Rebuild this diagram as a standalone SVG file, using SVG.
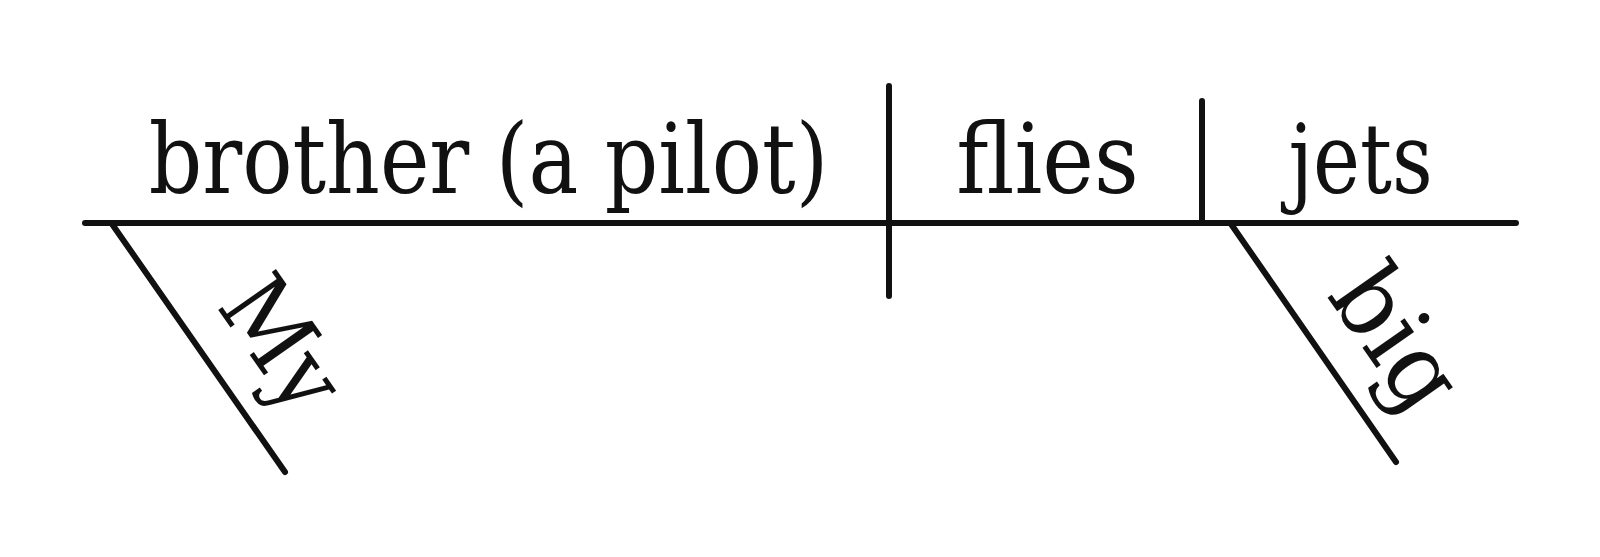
<svg xmlns="http://www.w3.org/2000/svg" width="1600" height="557" viewBox="0 0 1600 557">
<style>
.ln{stroke:#111;stroke-width:6;stroke-linecap:round;fill:none}
.t{font-family:"DejaVu Serif Condensed","DejaVu Serif",serif;font-stretch:condensed;font-size:97px;fill:#111}
.m{text-anchor:middle}
</style>
<rect width="1600" height="557" fill="#fff"/>
<g id="connectors">
<line class="ln" x1="85" y1="223" x2="1516" y2="223"/>
<line class="ln" x1="889" y1="86" x2="889" y2="296"/>
<line class="ln" x1="1202" y1="101" x2="1202" y2="223"/>
<line class="ln" x1="112" y1="224" x2="285" y2="472"/>
<line class="ln" x1="1231" y1="224" x2="1396" y2="462"/>
</g>
<g id="subject"><text class="t m" transform="translate(488.5,193) scale(0.958,1)">brother (a pilot)</text></g>
<g id="verb"><text class="t m" x="1047.5" y="193">flies</text></g>
<g id="object"><text class="t m" transform="translate(1360.5,193) scale(0.91,1)">jets</text></g>
<g id="mod-my"><text class="t" transform="translate(215.4,306) rotate(55)">My</text></g>
<g id="mod-big"><text class="t" transform="translate(1326,295.5) rotate(55) scale(1.08,1.02)">big</text></g>
</svg>
